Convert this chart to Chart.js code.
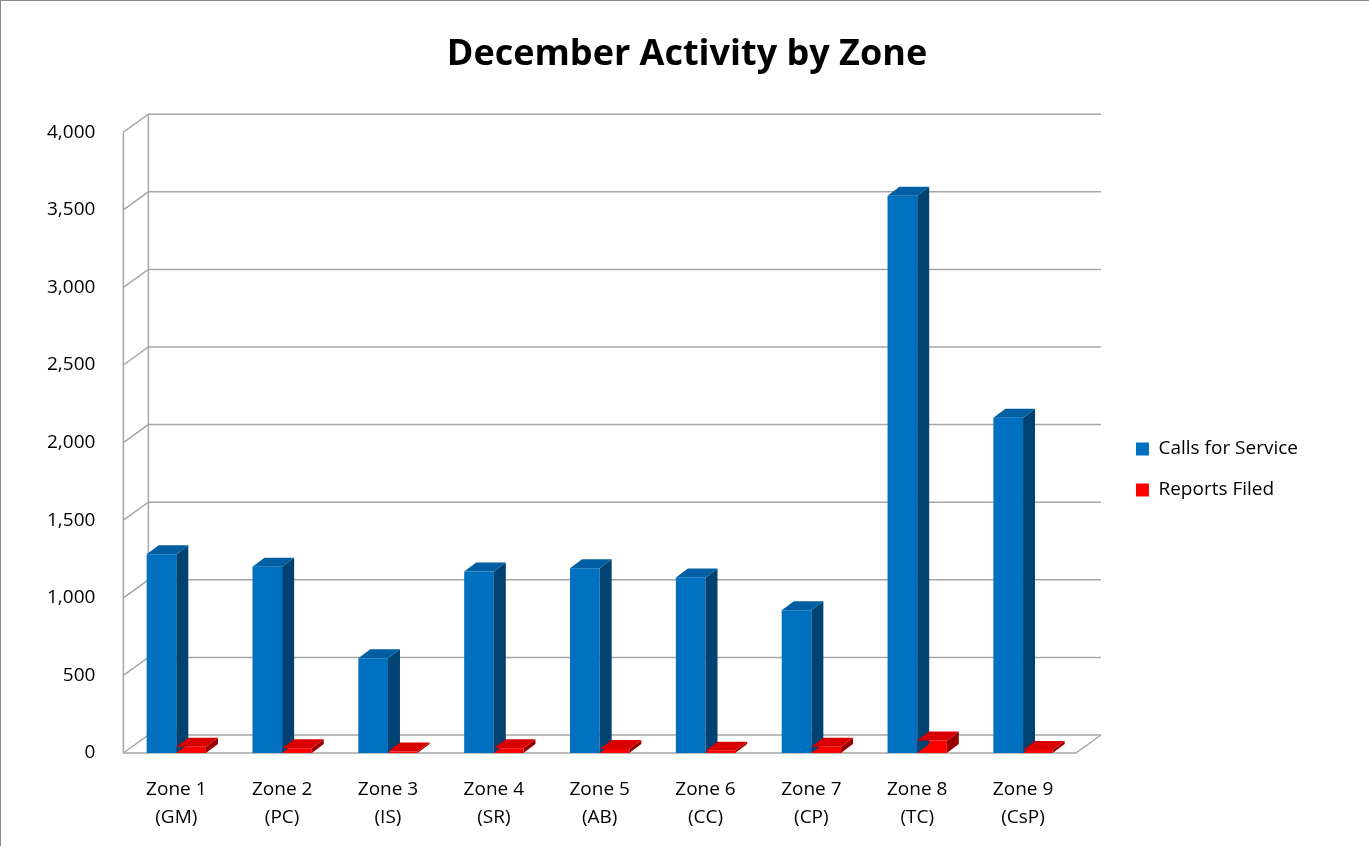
<!DOCTYPE html>
<html><head><meta charset="utf-8">
<script src="https://cdn.jsdelivr.net/npm/chart.js@4/dist/chart.umd.min.js"></script>
<style>html,body{margin:0;background:#fff}#w{width:1369px;height:846px;box-sizing:border-box;border:1px solid #888;border-right:none;border-bottom:none}</style>
</head><body><div id="w"><canvas id="c" width="1368" height="845"></canvas></div>
<script>
const categories = [["Zone 1","(GM)"],["Zone 2","(PC)"],["Zone 3","(IS)"],["Zone 4","(SR)"],["Zone 5","(AB)"],["Zone 6","(CC)"],["Zone 7","(CP)"],["Zone 8","(TC)"],["Zone 9","(CsP)"]];
const callsForService = [1280,1200,610,1170,1190,1130,920,3590,2160];
const reportsFiled = [40,30,10,30,25,15,40,80,20];
const DX = 25, DY = -18;
function shade(c,f){const n=parseInt(c.slice(1),16);const r=(n>>16)*f|0,g=((n>>8)&255)*f|0,b=(n&255)*f|0;return `rgb(${r},${g},${b})`;}
const threeD = {
  id:'threeD',
  beforeDatasetsDraw(chart){
    const {ctx,chartArea:a,scales:{y}}=chart;
    ctx.save();ctx.strokeStyle='#a6a6a6';ctx.lineWidth=1.5;
    y.ticks.forEach(t=>{const py=y.getPixelForValue(t.value);
      ctx.beginPath();ctx.moveTo(a.left,py);ctx.lineTo(a.left+DX,py+DY);ctx.lineTo(a.right+DX,py+DY);ctx.stroke();});
    ctx.beginPath();ctx.moveTo(a.left+DX,y.getPixelForValue(0)+DY);ctx.lineTo(a.left+DX,y.getPixelForValue(4000)+DY);ctx.stroke();
    ctx.beginPath();ctx.moveTo(a.left,y.getPixelForValue(0));ctx.lineTo(a.left,y.getPixelForValue(4000));ctx.stroke();
    const y0=y.getPixelForValue(0);
    ctx.beginPath();ctx.moveTo(a.left,y0);ctx.lineTo(a.right,y0);ctx.lineTo(a.right+DX,y0+DY);ctx.stroke();
    ctx.restore();
  },
  afterDatasetsDraw(chart){
    const ctx=chart.ctx;const d=12,e=-9;
    chart.data.datasets.forEach((ds,i)=>{
      chart.getDatasetMeta(i).data.forEach(b=>{
        const l=b.x-b.width/2,r=b.x+b.width/2,t=b.y,bt=b.base;
        ctx.fillStyle=shade(ds.backgroundColor,0.6);
        ctx.beginPath();ctx.moveTo(r,t);ctx.lineTo(r+d,t+e);ctx.lineTo(r+d,bt+e);ctx.lineTo(r,bt);ctx.fill();
        ctx.fillStyle=shade(ds.backgroundColor,0.85);
        ctx.beginPath();ctx.moveTo(l,t);ctx.lineTo(l+d,t+e);ctx.lineTo(r+d,t+e);ctx.lineTo(r,t);ctx.fill();
      });
    });
  }
};
new Chart(document.getElementById('c'),{
  type:'bar',
  data:{labels:categories,datasets:[
    {label:'Calls for Service',data:callsForService,backgroundColor:'#0070C0',categoryPercentage:0.56,barPercentage:1},
    {label:'Reports Filed',data:reportsFiled,backgroundColor:'#FF0000',categoryPercentage:0.56,barPercentage:1}]},
  options:{responsive:false,animation:false,devicePixelRatio:1,
    layout:{padding:{top:32,right:22,left:26,bottom:0}},
    plugins:{title:{display:true,text:'December Activity by Zone',font:{family:'Open Sans',size:36,weight:'bold'},color:'#000',padding:{top:0,bottom:56}},
      legend:{position:'right',align:'center',labels:{font:{family:'Open Sans',size:19},color:'#000',boxWidth:13,boxHeight:13,padding:22}},tooltip:{enabled:false}},
    scales:{
      x:{grid:{display:false},border:{display:false},ticks:{font:{family:'Open Sans',size:19,lineHeight:1.5},color:'#000',maxRotation:0,padding:14}},
      y:{min:0,max:4000,grid:{display:false},border:{display:false},
        ticks:{stepSize:500,font:{family:'Open Sans',size:19},color:'#000',padding:20,callback:v=>v.toLocaleString('en-US')}}
    }},
  plugins:[threeD,{id:'legendGap',beforeInit(c){const f=c.legend.fit;c.legend.fit=function(){f.bind(c.legend)();this.width+=77;};},
    afterLayout(c){const L=c.legend;const s=38,v=30;L.left+=s;L.right+=s;L.top+=v;L.bottom+=v;if(L.legendHitBoxes)L.legendHitBoxes.forEach(h=>{h.left+=s;h.top+=v;});}}]
});
</script>
</body></html>
